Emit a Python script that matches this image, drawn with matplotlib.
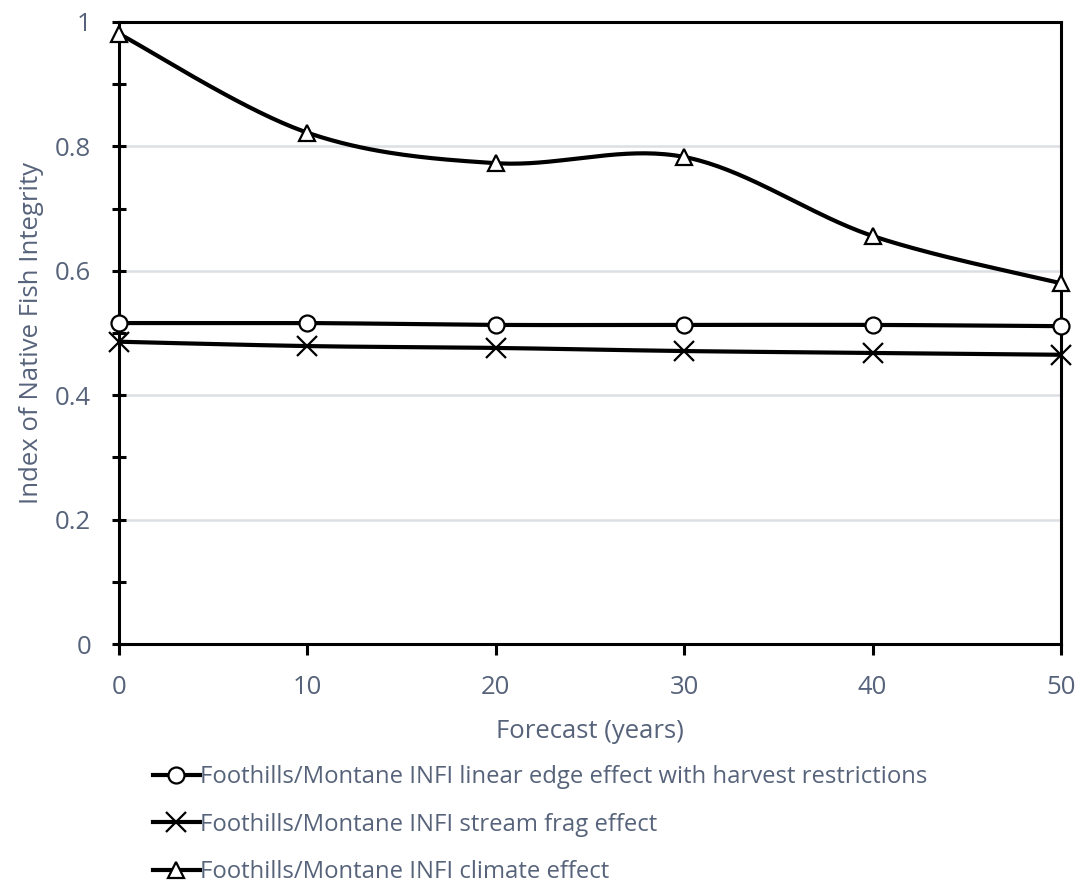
import numpy as np
import matplotlib
matplotlib.use("Agg")
import matplotlib.pyplot as plt
from matplotlib.ticker import MultipleLocator, FuncFormatter

plt.rcParams['font.family'] = ['Open Sans', 'DejaVu Sans']

years = [0, 10, 20, 30, 40, 50]
edge_harvest = [0.516, 0.516, 0.513, 0.513, 0.513, 0.511]
stream_frag = [0.486, 0.479, 0.476, 0.471, 0.468, 0.465]
climate = [0.981, 0.822, 0.773, 0.783, 0.656, 0.580]

series_labels = [
    "Foothills/Montane INFI linear edge effect with harvest restrictions",
    "Foothills/Montane INFI stream frag effect",
    "Foothills/Montane INFI climate effect",
]

TEXT = "#56637a"


def smooth(x, y, n=40):
    """Catmull-Rom style smoothed path through the points (like spreadsheet smoothed lines)."""
    x = np.asarray(x, float)
    y = np.asarray(y, float)
    P = np.column_stack([x, y])
    pts = []
    for i in range(len(P) - 1):
        p0 = P[i - 1] if i > 0 else P[i]
        p1 = P[i]
        p2 = P[i + 1]
        p3 = P[i + 2] if i + 2 < len(P) else P[i + 1]
        c1 = p1 + (p2 - p0) / 6.0
        c2 = p2 - (p3 - p1) / 6.0
        t = np.linspace(0, 1, n)[:, None]
        seg = ((1 - t) ** 3) * p1 + 3 * ((1 - t) ** 2) * t * c1 + 3 * (1 - t) * t ** 2 * c2 + t ** 3 * p2
        pts.append(seg if i == 0 else seg[1:])
    pts = np.vstack(pts)
    return pts[:, 0], pts[:, 1]


fig = plt.figure(figsize=(10.92, 8.86), dpi=100)
ax = fig.add_axes([0.109, 0.2731, 0.8626, 0.7021])

markers = ['o', 'x', '^']
handles = []
for vals, mk, lab in zip([edge_harvest, stream_frag, climate], markers, series_labels):
    sx, sy = smooth(years, vals)
    ax.plot(sx, sy, color='black', lw=3, solid_capstyle='round', zorder=3)
    ms = 14 if mk == 'x' else 11.5
    ax.plot(years, vals, linestyle='none', marker=mk, markersize=ms,
            markerfacecolor='white' if mk != 'x' else 'black',
            markeredgecolor='black', markeredgewidth=1.6, zorder=4, clip_on=False)
    h, = ax.plot([], [], color='black', lw=3, marker=mk, markersize=ms,
                 markerfacecolor='white' if mk != 'x' else 'black',
                 markeredgecolor='black', markeredgewidth=1.6)
    handles.append(h)

ax.set_xlim(0, 50)
ax.set_ylim(0, 1)
ax.xaxis.set_major_locator(MultipleLocator(10))
ax.yaxis.set_major_locator(MultipleLocator(0.2))
ax.yaxis.set_minor_locator(MultipleLocator(0.1))
ax.yaxis.set_major_formatter(FuncFormatter(lambda v, p: f"{v:g}"))

ax.grid(axis='y', which='major', color='#dcdfe4', lw=1.8, zorder=0)
for s in ax.spines.values():
    s.set_color('black')
    s.set_linewidth(2.2)

ax.tick_params(axis='x', which='major', direction='out', length=8, width=2.2,
               color='black', labelsize=18.5, labelcolor=TEXT, pad=14)
ax.tick_params(axis='y', which='major', direction='inout', length=10, width=2.2,
               color='black', labelsize=18.5, labelcolor=TEXT, pad=15)
ax.tick_params(axis='y', which='minor', direction='inout', length=10, width=2.2, color='black')

ax.set_xlabel("Forecast (years)", fontsize=18.5, color=TEXT, labelpad=14)
ax.set_ylabel("Index of Native Fish Integrity", fontsize=18.5, color=TEXT, labelpad=8)

fig.legend(handles, series_labels, loc='upper left', bbox_to_anchor=(0.1315, 0.147),
           frameon=False, fontsize=17.2, labelcolor=TEXT, handlelength=1.95,
           handletextpad=0.0, labelspacing=0.98, borderaxespad=0)

fig.savefig("out.png", dpi=100)
